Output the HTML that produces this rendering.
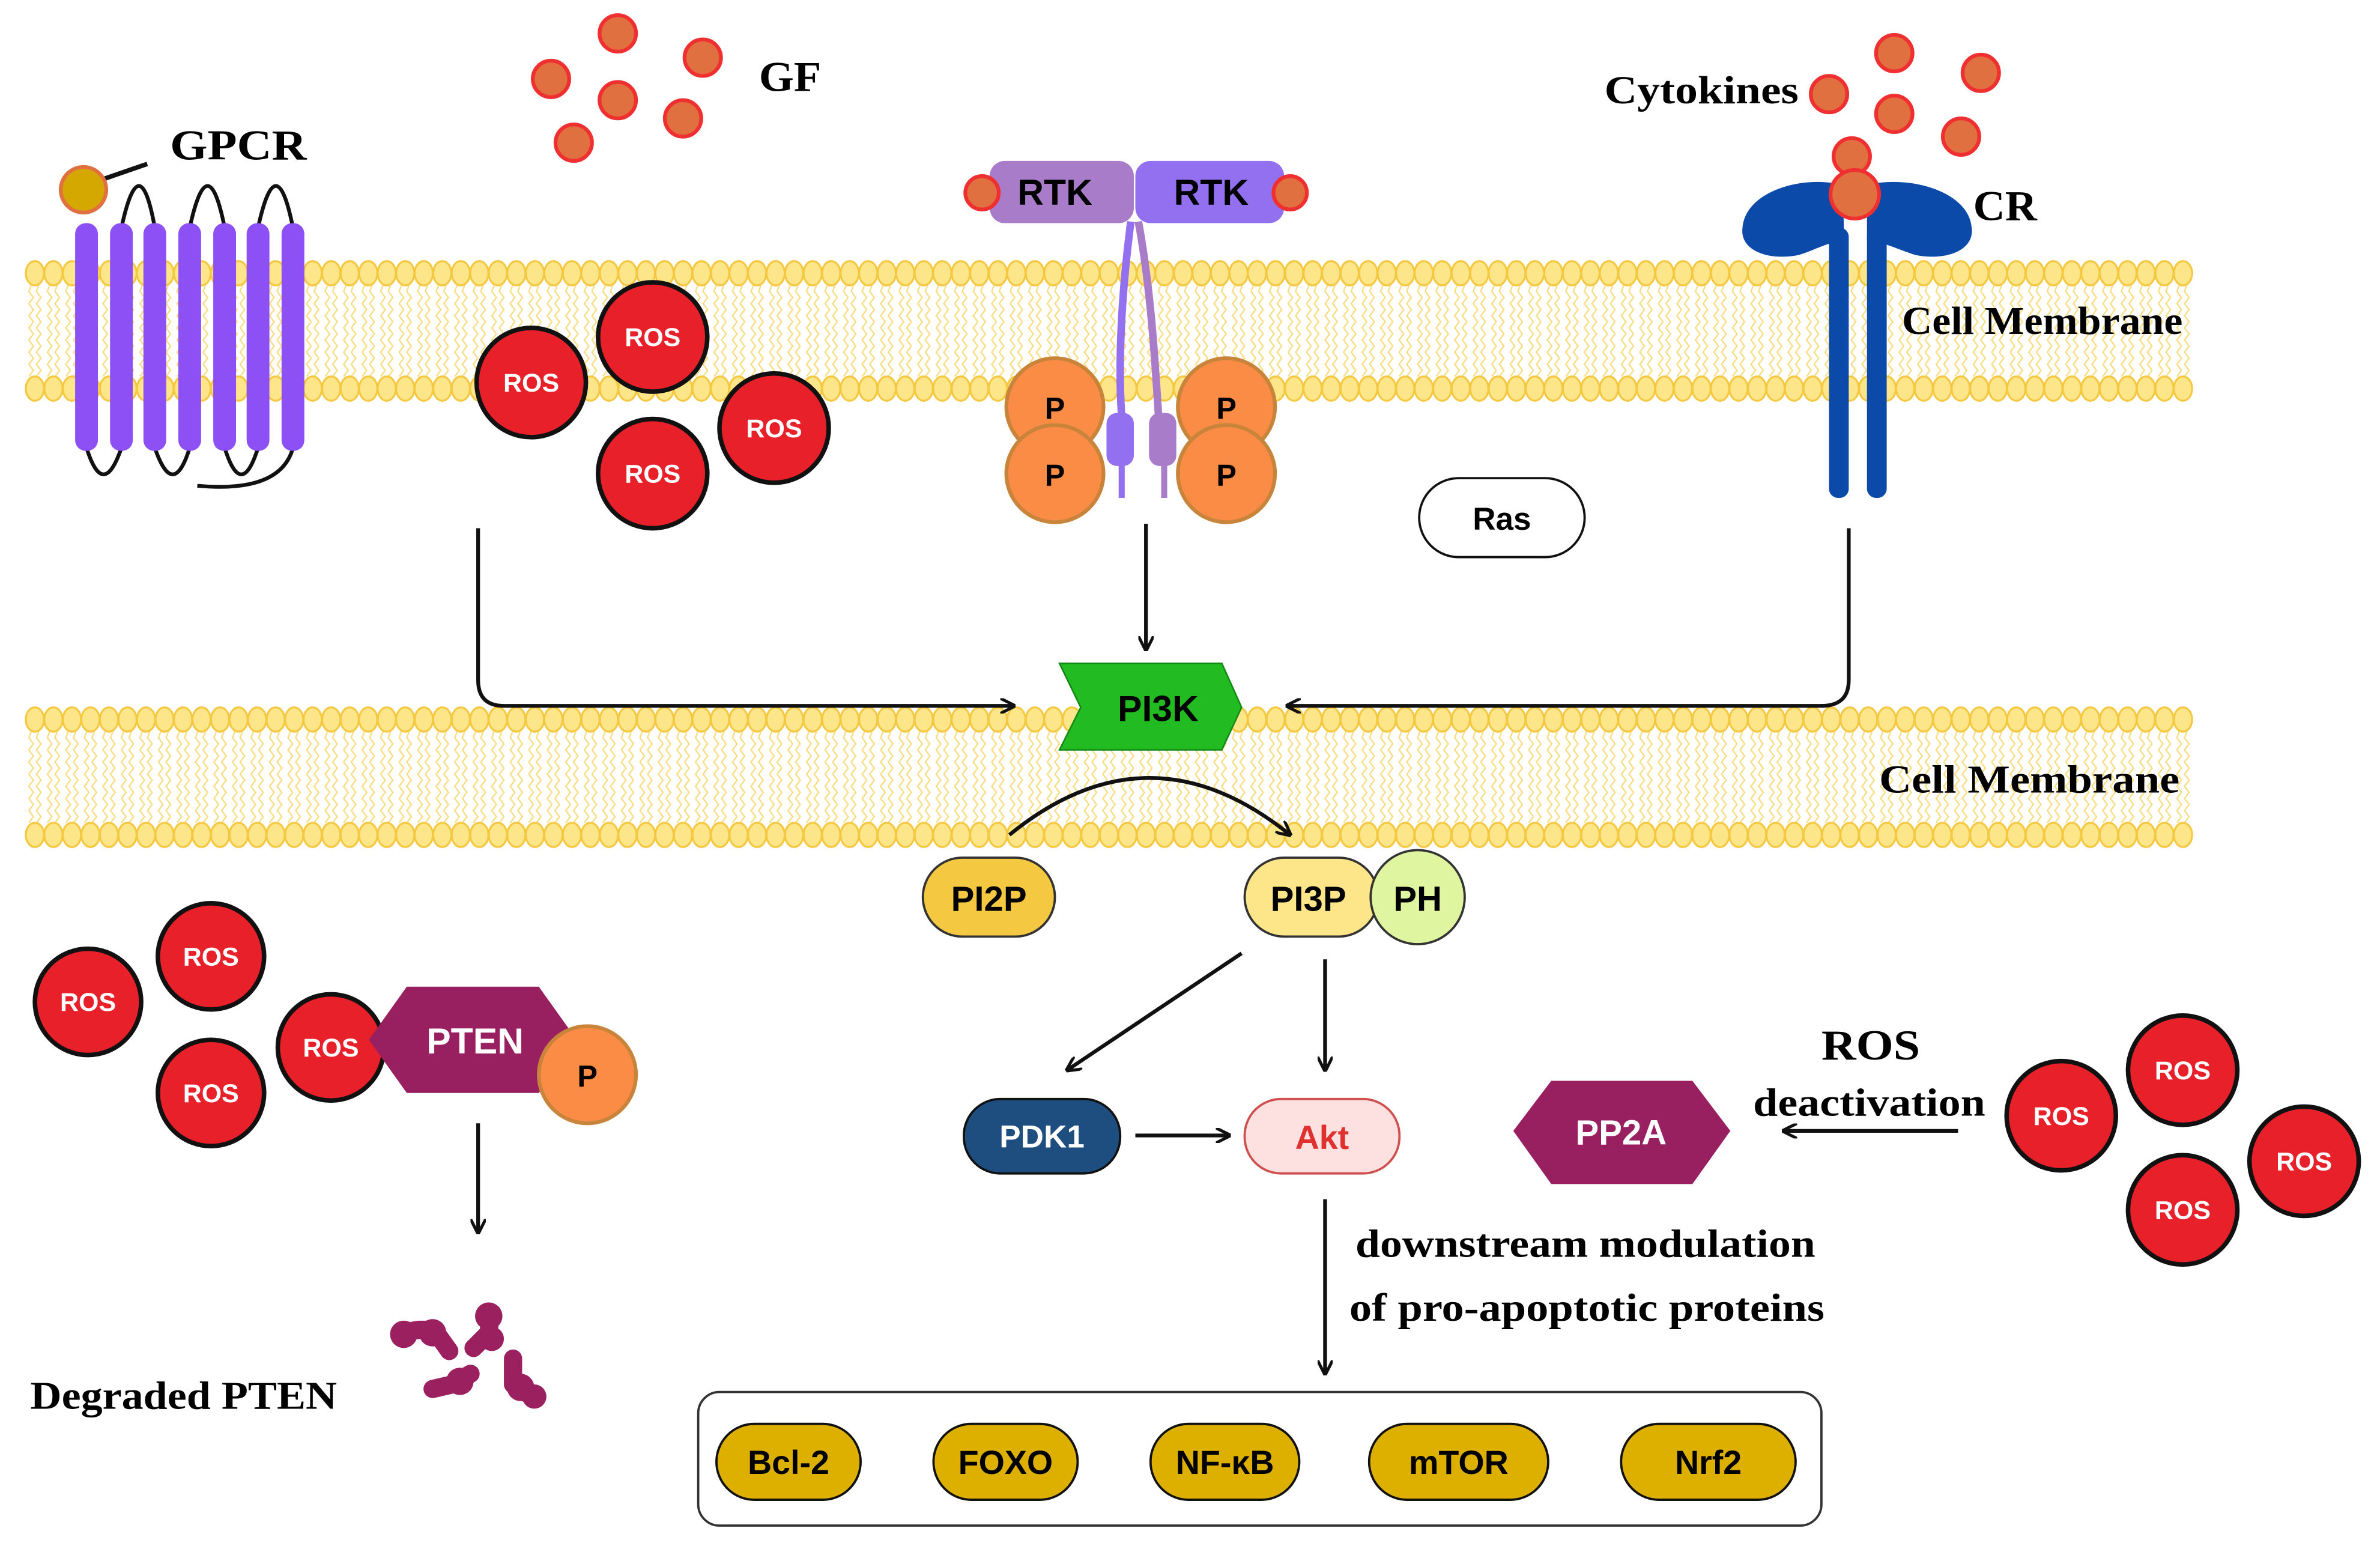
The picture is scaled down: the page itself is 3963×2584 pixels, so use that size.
<!DOCTYPE html>
<html><head><meta charset="utf-8"><style>
html,body{margin:0;padding:0;background:#fff;}
svg{display:block;}
.sf{font-family:"Liberation Serif",serif;font-weight:bold;}
.ss{font-family:"Liberation Sans",sans-serif;font-weight:bold;}
</style></head><body>
<svg id="s" width="3963" height="2584" viewBox="0 0 1568 1022.4" preserveAspectRatio="none" xmlns="http://www.w3.org/2000/svg">
<defs>
<marker id="ah" markerWidth="10" markerHeight="10" refX="9" refY="5" orient="auto" markerUnits="userSpaceOnUse"><path d="M0,0 L10,5 L0,10" fill="none" stroke="#111" stroke-width="2"/></marker>
</defs>
<rect width="1568" height="1022.4" fill="#fff"/>
<g id="mem"></g>

<!-- GF -->
<g fill="#e07040" stroke="#f03030" stroke-width="2.5">
<circle cx="407" cy="22" r="12"/><circle cx="463" cy="38" r="12"/><circle cx="363" cy="52" r="12"/><circle cx="407" cy="66" r="12"/><circle cx="450" cy="78" r="12"/><circle cx="378" cy="94" r="12"/>
</g>
<text x="500" y="60" class="sf" font-size="28" textLength="41" lengthAdjust="spacingAndGlyphs">GF</text>

<!-- GPCR -->
<text x="112" y="105" class="sf" font-size="28" textLength="90" lengthAdjust="spacingAndGlyphs">GPCR</text>
<line x1="68" y1="118" x2="97" y2="108" stroke="#111" stroke-width="3"/>
<g fill="none" stroke="#111" stroke-width="2.5">
<path d="M80,150 Q92,95 102,150"/><path d="M125,150 Q137,95 148,150"/><path d="M170,150 Q182,95 193,150"/>
<path d="M57,295 Q68,330 80,295"/><path d="M102,295 Q114,330 125,295"/><path d="M148,295 Q159,330 170,295"/>
<path d="M193,295 Q185,325 130,320"/>
</g>
<g fill="#8c50f5">
<rect x="49.5" y="147" width="15" height="150" rx="7"/><rect x="72.5" y="147" width="15" height="150" rx="7"/><rect x="94.5" y="147" width="15" height="150" rx="7"/><rect x="117.5" y="147" width="15" height="150" rx="7"/><rect x="140.5" y="147" width="15" height="150" rx="7"/><rect x="162.5" y="147" width="15" height="150" rx="7"/><rect x="185.5" y="147" width="15" height="150" rx="7"/>
</g>
<circle cx="55" cy="125" r="15" fill="#d4a800" stroke="#e07040" stroke-width="2.5"/>

<g id="rosg"></g>

<!-- RTK -->
<path d="M745,146 C738,200 735,260 742,300" stroke="#9370f0" stroke-width="5" fill="none"/>
<path d="M750,146 C760,200 762,260 765,300" stroke="#a97cc9" stroke-width="5" fill="none"/>
<rect x="729" y="272" width="18" height="35" rx="7" fill="#9370f0"/><line x1="739" y1="300" x2="739" y2="328" stroke="#9370f0" stroke-width="4"/>
<rect x="757" y="272" width="18" height="35" rx="7" fill="#a97cc9"/><line x1="767" y1="300" x2="767" y2="328" stroke="#a97cc9" stroke-width="4"/>
<rect x="652" y="106" width="95" height="41" rx="10" fill="#a97cc9"/>
<rect x="748" y="106" width="98" height="41" rx="10" fill="#9370f0"/>
<circle cx="647" cy="127" r="11" fill="#e07040" stroke="#f03030" stroke-width="2.5"/>
<circle cx="850" cy="127" r="11" fill="#e07040" stroke="#f03030" stroke-width="2.5"/>
<text x="695" y="135" class="ss" font-size="24" text-anchor="middle">RTK</text>
<text x="798" y="135" class="ss" font-size="24" text-anchor="middle">RTK</text>
<g fill="#fb8c45" stroke="#c8843a" stroke-width="2.5">
<circle cx="695" cy="268" r="32"/><circle cx="808" cy="268" r="32"/><circle cx="695" cy="312" r="32"/><circle cx="808" cy="312" r="32"/>
</g>
<g class="ss" font-size="20" text-anchor="middle">
<text x="695" y="276">P</text><text x="808" y="276">P</text><text x="695" y="320">P</text><text x="808" y="320">P</text>
</g>

<rect x="935" y="315" width="109" height="52" rx="26" fill="#fff" stroke="#111" stroke-width="1.5"/>
<text x="989.5" y="349" class="ss" font-size="21" text-anchor="middle">Ras</text>

<text x="1057" y="68" class="sf" font-size="26" textLength="128" lengthAdjust="spacingAndGlyphs">Cytokines</text>
<g fill="#e07040" stroke="#f03030" stroke-width="2.5">
<circle cx="1248" cy="35" r="12"/><circle cx="1305" cy="48" r="12"/><circle cx="1205" cy="62" r="12"/><circle cx="1248" cy="75" r="12"/><circle cx="1292" cy="90" r="12"/><circle cx="1220" cy="103" r="12"/>
</g>
<g fill="#0b4aa8">
<path d="M1214,122 C1190,115 1150,125 1148,150 C1146,165 1165,172 1185,168 C1195,165 1203,160 1215,158 Z"/>
<path d="M1230,122 C1255,115 1297,125 1299,150 C1301,165 1282,172 1262,168 C1252,165 1243,160 1230,158 Z"/>
<rect x="1205" y="150" width="13" height="178" rx="6"/>
<rect x="1230" y="150" width="13" height="178" rx="6"/>
</g>
<circle cx="1222" cy="128" r="16" fill="#e07040" stroke="#f03030" stroke-width="2.5"/>
<text x="1300" y="145" class="sf" font-size="28" textLength="42" lengthAdjust="spacingAndGlyphs">CR</text>
<text x="1253" y="220" class="sf" font-size="26" textLength="185" lengthAdjust="spacingAndGlyphs">Cell Membrane</text>
<text x="1238" y="522" class="sf" font-size="26" textLength="198" lengthAdjust="spacingAndGlyphs">Cell Membrane</text>

<g fill="none" stroke="#111" stroke-width="2.5">
<path d="M315,348 L315,448 Q315,465 332,465 L668,465" marker-end="url(#ah)"/>
<path d="M1218,348 L1218,448 Q1218,465 1200,465 L848,465" marker-end="url(#ah)"/>
<path d="M755,345 L755,428" marker-end="url(#ah)"/>
<path d="M665,550 Q757,475 850,550" marker-end="url(#ah)"/>
<path d="M818,628 L703,705" marker-end="url(#ah)"/>
<path d="M873,632 L873,705" marker-end="url(#ah)"/>
<path d="M748,748 L810,748" marker-end="url(#ah)"/>
<path d="M873,790 L873,905" marker-end="url(#ah)"/>
<path d="M315,740 L315,812" marker-end="url(#ah)"/>
<path d="M1290,745 L1175,745" marker-end="url(#ah)"/>
</g>
<polygon points="698,437 805,437 818,466 805,494 698,494 712,466" fill="#22bb22" stroke="#118811" stroke-width="1"/>
<text x="763" y="475" class="ss" font-size="24" text-anchor="middle">PI3K</text>

<rect x="608" y="565" width="87" height="52" rx="26" fill="#f5c842" stroke="#333" stroke-width="1.5"/>
<text x="651.5" y="600" class="ss" font-size="23" text-anchor="middle">PI2P</text>
<rect x="820" y="565" width="88" height="52" rx="26" fill="#fde68a" stroke="#333" stroke-width="1.5"/>
<text x="862" y="600" class="ss" font-size="23" text-anchor="middle">PI3P</text>
<circle cx="934" cy="591" r="31" fill="#e0f5a0" stroke="#333" stroke-width="1.5"/>
<text x="934" y="600" class="ss" font-size="23" text-anchor="middle">PH</text>

<rect x="635" y="724" width="103" height="49" rx="24" fill="#1e4d80" stroke="#111" stroke-width="1.5"/>
<text x="686.5" y="756" class="ss" font-size="21" text-anchor="middle" fill="#fff">PDK1</text>
<rect x="820" y="724" width="102" height="49" rx="24" fill="#fde0e0" stroke="#d05050" stroke-width="1.5"/>
<text x="871" y="757" class="ss" font-size="22" text-anchor="middle" fill="#e03030">Akt</text>

<text x="893" y="828" class="sf" font-size="26" textLength="303" lengthAdjust="spacingAndGlyphs">downstream modulation</text>
<text x="889" y="870" class="sf" font-size="26" textLength="313" lengthAdjust="spacingAndGlyphs">of pro-apoptotic proteins</text>

<rect x="460" y="917" width="740" height="88" rx="14" fill="#fff" stroke="#333" stroke-width="1.5"/>
<g fill="#ddb000" stroke="#111" stroke-width="1.5">
<rect x="472" y="938" width="95" height="50" rx="25"/><rect x="615" y="938" width="95" height="50" rx="25"/><rect x="758" y="938" width="98" height="50" rx="25"/><rect x="902" y="938" width="118" height="50" rx="25"/><rect x="1068" y="938" width="115" height="50" rx="25"/>
</g>
<g class="ss" font-size="22" text-anchor="middle">
<text x="519.5" y="971">Bcl-2</text><text x="662.5" y="971">FOXO</text><text x="807" y="971">NF-κB</text><text x="961" y="971">mTOR</text><text x="1125.5" y="971">Nrf2</text>
</g>

<polygon points="243,685 268,650 355,650 380,685 355,720 268,720" fill="#992060"/>
<text x="313" y="694" class="ss" font-size="24" text-anchor="middle" fill="#fff">PTEN</text>
<circle cx="387" cy="708" r="32" fill="#fb8c45" stroke="#c8843a" stroke-width="2.5"/>
<text x="387" y="716" class="ss" font-size="20" text-anchor="middle">P</text>
<text x="20" y="928" class="sf" font-size="26" textLength="202" lengthAdjust="spacingAndGlyphs">Degraded PTEN</text>
<g fill="#9b2060" stroke="#9b2060" stroke-width="12" stroke-linecap="round" stroke-linejoin="round">
<path d="M264,878 L276,876 L286,876 L296,890" fill="none"/>
<circle cx="266" cy="879" r="9" stroke="none"/><circle cx="285" cy="878" r="9" stroke="none"/>
<path d="M323,865 L322,878 L312,888" fill="none"/>
<circle cx="322" cy="867" r="9" stroke="none"/><circle cx="324" cy="882" r="8" stroke="none"/>
<path d="M285,915 L298,912 L310,905" fill="none"/>
<circle cx="303" cy="910" r="9" stroke="none"/>
<path d="M338,895 L338,912 L352,921" fill="none"/>
<circle cx="343" cy="914" r="9" stroke="none"/><circle cx="352" cy="920" r="8" stroke="none"/>
</g>

<polygon points="997,745 1022,712 1115,712 1140,745 1115,780 1022,780" fill="#992060"/>
<text x="1068" y="754" class="ss" font-size="23" text-anchor="middle" fill="#fff">PP2A</text>
<text x="1200" y="698" class="sf" font-size="28" textLength="65" lengthAdjust="spacingAndGlyphs">ROS</text>
<text x="1155" y="735" class="sf" font-size="26" textLength="153" lengthAdjust="spacingAndGlyphs">deactivation</text>
</svg>
<script>
(function(){
var m=document.getElementById("mem"),h="";
function mem(y1,y2){
 for(var x=23;x<1445;x+=12.2){
  var p1="M"+(x-2.5)+","+(y1+8),p2="M"+(x+2.5)+","+(y1+8);
  for(var y=y1+8;y<y2-8;y+=4){var d=((y-y1)/4)%2?1.5:-1.5;p1+=" L"+(x-2.5+d)+","+(y+4);p2+=" L"+(x+2.5+d)+","+(y+4);}
  h+='<path d="'+p1+' '+p2+'" stroke="#f9dc80" stroke-width="0.9" fill="none"/>';
  h+='<ellipse cx="'+x+'" cy="'+y1+'" rx="6" ry="8" fill="#fde68a" stroke="#f5c842" stroke-width="1.3"/>';
  h+='<ellipse cx="'+x+'" cy="'+y2+'" rx="6" ry="8" fill="#fde68a" stroke="#f5c842" stroke-width="1.3"/>';
 }
}
mem(180,256);mem(474,550);
m.innerHTML=h;
var r=document.getElementById("rosg"),s="";
[[350,252,36],[430,222,36],[510,282,36],[430,312,36],[58,660,35],[139,630,35],[139,720,35],[218,690,35],[1358,735,36],[1438,705,36],[1518,765,36],[1438,797,36]].forEach(function(c){
 s+='<circle cx="'+c[0]+'" cy="'+c[1]+'" r="'+c[2]+'" fill="#e8202a" stroke="#111" stroke-width="3"/>';
 s+='<text x="'+c[0]+'" y="'+(c[1]+6)+'" font-family="Liberation Sans,sans-serif" font-weight="bold" font-size="17" fill="#fff" text-anchor="middle">ROS</text>';
});
r.innerHTML=s;
})();
</script>
</body></html>
